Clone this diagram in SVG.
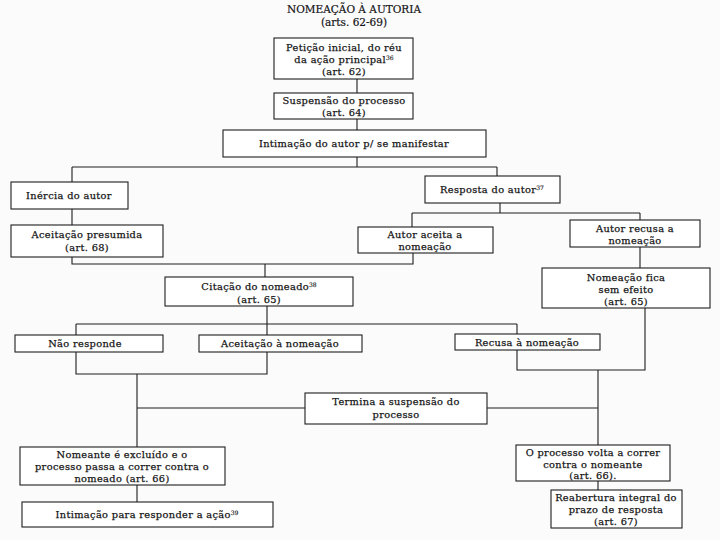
<svg xmlns="http://www.w3.org/2000/svg" width="720" height="540" viewBox="0 0 720 540">
<style>
.bg{fill:#fcfbfc}
.box{fill:#ffffff;stroke:#1e1e1e;stroke-width:1.1}
.t{font-family:"DejaVu Serif","Liberation Serif",serif;font-size:9.8px;letter-spacing:0.35px;fill:#151515;stroke:#151515;stroke-width:0.25;text-anchor:middle}
.title{font-family:"DejaVu Serif","Liberation Serif",serif;font-size:10.5px;fill:#151515;stroke:#151515;stroke-width:0.2;text-anchor:middle}
.sup{font-size:6px;letter-spacing:0;stroke-width:0.15}
.c{fill:none;stroke:#1e1e1e;stroke-width:1.1}
</style>
<rect class="bg" x="0" y="0" width="720" height="540"/>
<g id="title">
<text class="title" x="354" y="13">NOMEAÇÃO À AUTORIA</text>
<text class="title" x="354" y="26">(arts. 62-69)</text>
</g>
<g id="connectors">
<path class="c" d="M357,79V93 M357,119V130 M357,157V167 M72,167H497 M72,167V182 M497,167V176 M72,209V225 M500,203V213 M412,213H640 M412,213V227 M640,213V220 M640,247V268 M72,257V264H413V253 M265,264V277 M267,306V335 M76,324H517 M76,324V335 M517,324V334 M517,350V370H645V308 M598,370V445 M76,352V374H267V352 M137,374V447 M137,408H305 M487,408H598 M137,485V502 M598,481V490"/>
</g>
<g id="n1"><rect class="box" x="274" y="38" width="139" height="41"/>
<text class="t" x="344" y="51">Petição inicial, do réu</text>
<text class="t" x="344" y="63">da ação principal<tspan class="sup" dy="-3">36</tspan></text>
<text class="t" x="344" y="75">(art. 62)</text></g>
<g id="n2"><rect class="box" x="274" y="93" width="139" height="26"/>
<text class="t" x="344" y="104">Suspensão do processo</text>
<text class="t" x="344" y="116">(art. 64)</text></g>
<g id="n3"><rect class="box" x="223" y="130" width="263" height="27"/>
<text class="t" x="354" y="147">Intimação do autor p/ se manifestar</text></g>
<g id="n4"><rect class="box" x="11" y="182" width="117" height="27"/>
<text class="t" x="69" y="199">Inércia do autor</text></g>
<g id="n5"><rect class="box" x="425" y="176" width="135" height="27"/>
<text class="t" x="492" y="193">Resposta do autor<tspan class="sup" dy="-3">37</tspan></text></g>
<g id="n6"><rect class="box" x="11" y="225" width="152" height="32"/>
<text class="t" x="87" y="238">Aceitação presumida</text>
<text class="t" x="87" y="251">(art. 68)</text></g>
<g id="n7"><rect class="box" x="358" y="227" width="135" height="26"/>
<text class="t" x="425" y="238">Autor aceita a</text>
<text class="t" x="425" y="250">nomeação</text></g>
<g id="n8"><rect class="box" x="570" y="220" width="130" height="27"/>
<text class="t" x="635" y="232">Autor recusa a</text>
<text class="t" x="635" y="244">nomeação</text></g>
<g id="n9"><rect class="box" x="542" y="268" width="168" height="40"/>
<text class="t" x="626" y="281">Nomeação fica</text>
<text class="t" x="626" y="293">sem efeito</text>
<text class="t" x="626" y="305">(art. 65)</text></g>
<g id="n10"><rect class="box" x="165" y="277" width="188" height="29"/>
<text class="t" x="259" y="290">Citação do nomeado<tspan class="sup" dy="-3">38</tspan></text>
<text class="t" x="259" y="303">(art. 65)</text></g>
<g id="n11"><rect class="box" x="15" y="335" width="148" height="17"/>
<text class="t" x="85" y="347">Não responde</text></g>
<g id="n12"><rect class="box" x="199" y="335" width="163" height="17"/>
<text class="t" x="280" y="347">Aceitação à nomeação</text></g>
<g id="n13"><rect class="box" x="455" y="334" width="145" height="16"/>
<text class="t" x="527" y="346">Recusa à nomeação</text></g>
<g id="n14"><rect class="box" x="305" y="393" width="182" height="31"/>
<text class="t" x="396" y="405">Termina a suspensão do</text>
<text class="t" x="396" y="418">processo</text></g>
<g id="n15"><rect class="box" x="20" y="447" width="205" height="38"/>
<text class="t" x="122" y="458">Nomeante é excluído e o</text>
<text class="t" x="122" y="470">processo passa a correr contra o</text>
<text class="t" x="122" y="482">nomeado (art. 66)</text></g>
<g id="n16"><rect class="box" x="516" y="445" width="154" height="36"/>
<text class="t" x="593" y="456">O processo volta a correr</text>
<text class="t" x="593" y="467.5">contra o nomeante</text>
<text class="t" x="593" y="479">(art. 66).</text></g>
<g id="n17"><rect class="box" x="22" y="502" width="251" height="25"/>
<text class="t" x="147" y="518">Intimação para responder a ação<tspan class="sup" dy="-3">39</tspan></text></g>
<g id="n18"><rect class="box" x="551" y="490" width="131" height="38"/>
<text class="t" x="616" y="501">Reabertura integral do</text>
<text class="t" x="616" y="513">prazo de resposta</text>
<text class="t" x="616" y="525">(art. 67)</text></g>
</svg>
